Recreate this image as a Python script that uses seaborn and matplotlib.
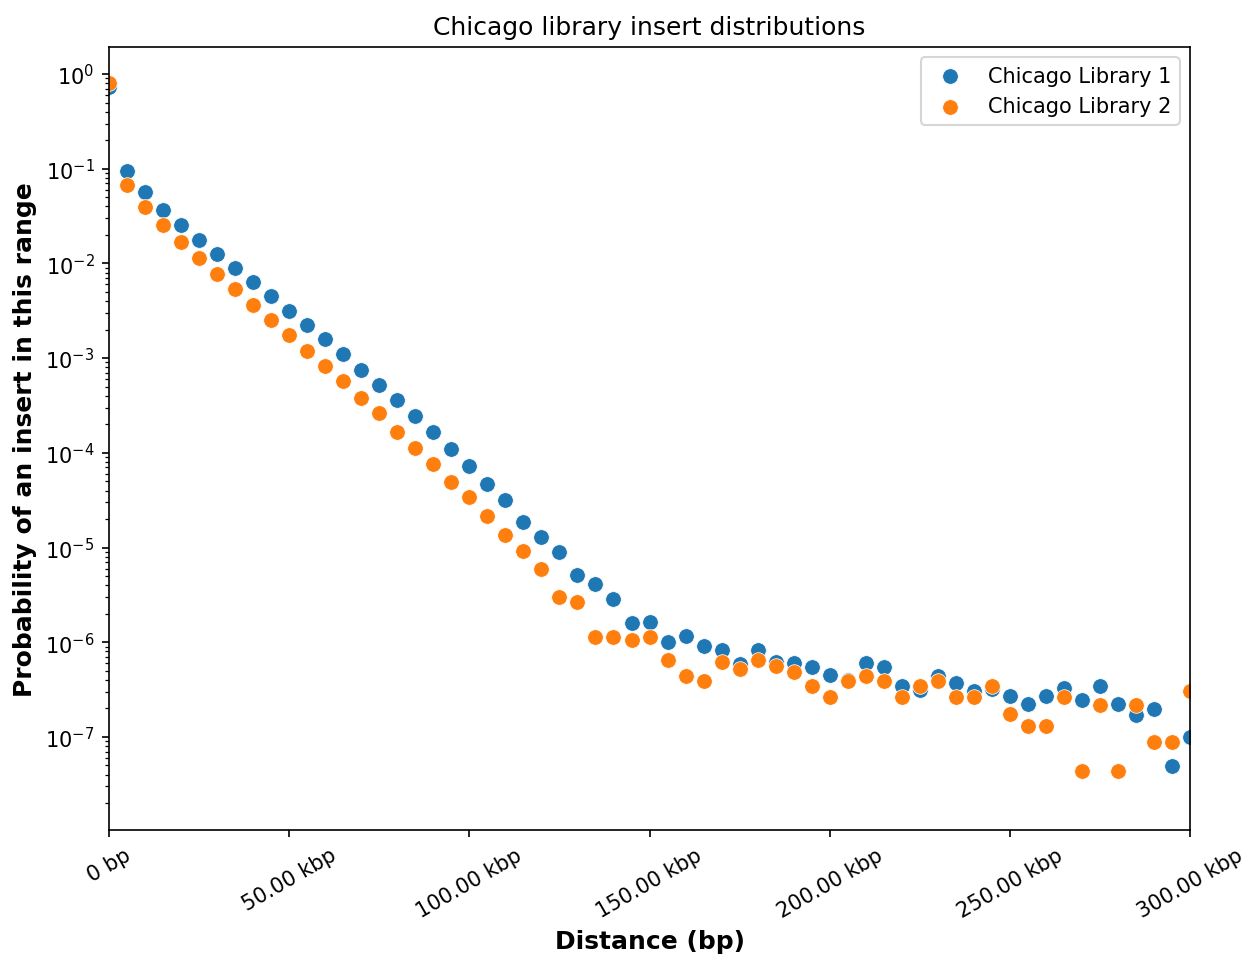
import matplotlib
matplotlib.use("Agg")
import matplotlib.pyplot as plt
from matplotlib.ticker import FuncFormatter, MultipleLocator
import numpy as np
import pandas as pd
import seaborn as sns

# Insert-size bins (bp), one every 5 kbp from 0 to 300 kbp
distance_bp = list(range(0, 300001, 5000))

library1_prob = [
    0.73, 0.0946, 0.0567, 0.0366, 0.0255, 0.0177, 0.0126, 0.00894, 0.00636, 0.00453,
    0.00314, 0.00224, 0.00159, 0.0011, 0.000748, 0.00052, 0.000358, 0.000244, 0.000165, 0.00011,
    7.23e-5, 4.65e-5, 3.15e-5, 1.87e-5, 1.28e-5, 8.88e-6, 5.13e-6, 4.08e-6, 2.86e-6, 1.61e-6,
    1.62e-6, 1.0e-6, 1.15e-6, 9.18e-7, 8.28e-7, 5.89e-7, 8.28e-7, 6.14e-7, 6.03e-7, 5.52e-7,
    4.51e-7, 3.95e-7, 5.98e-7, 5.43e-7, 3.48e-7, 3.15e-7, 4.36e-7, 3.71e-7, 3.08e-7, 3.21e-7,
    2.73e-7, 2.21e-7, 2.73e-7, 3.26e-7, 2.47e-7, 3.45e-7, 2.21e-7, 1.72e-7, 1.97e-7, 4.93e-8,
    9.9e-8,
]

library2_prob = [
    0.80, 0.0673, 0.0394, 0.0255, 0.0168, 0.0114, 0.00773, 0.00537, 0.00364, 0.00252,
    0.00175, 0.00119, 0.000826, 0.000573, 0.000379, 0.000263, 0.000166, 0.000112, 7.62e-5, 4.95e-5,
    3.39e-5, 2.13e-5, 1.35e-5, 9.25e-6, 5.93e-6, 3.03e-6, 2.64e-6, 1.14e-6, 1.14e-6, 1.05e-6,
    1.14e-6, 6.54e-7, 4.36e-7, 3.92e-7, 6.14e-7, 5.21e-7, 6.54e-7, 5.65e-7, 4.81e-7, 3.48e-7,
    2.62e-7, 3.92e-7, 4.36e-7, 3.92e-7, 2.62e-7, 3.48e-7, 3.92e-7, 2.62e-7, 2.62e-7, 3.48e-7,
    1.75e-7, 1.31e-7, 1.31e-7, 2.62e-7, 4.37e-8, 2.19e-7, 4.37e-8, 2.19e-7, 8.75e-8, 8.75e-8,
    3.08e-7,
]

series_labels = ["Chicago Library 1", "Chicago Library 2"]
series_colors = ["#1f77b4", "#ff7f0e"]

df1 = pd.DataFrame({"distance": distance_bp, "prob": library1_prob})
df2 = pd.DataFrame({"distance": distance_bp, "prob": library2_prob})

fig = plt.figure(figsize=(8.3, 6.373), dpi=150)
ax = fig.add_axes([0.0876, 0.1308, 0.9558 - 0.0876, 0.9498 - 0.1308])

for df, lab, col in zip([df1, df2], series_labels, series_colors):
    sns.scatterplot(data=df, x="distance", y="prob", ax=ax, color=col,
                    s=56, linewidth=0.35, edgecolor="white", label=lab)

ax.set_yscale("log")
ax.set_xlim(0, 300000)
ax.set_ylim(1.04e-8, 1.93)
ax.xaxis.set_major_locator(MultipleLocator(50000))


def bp_format(v, pos):
    if v == 0:
        return "0 bp"
    return f"{v / 1000:.2f} kbp"


ax.xaxis.set_major_formatter(FuncFormatter(bp_format))
plt.setp(ax.get_xticklabels(), rotation=30, ha="center")

ax.set_title("Chicago library insert distributions")
ax.set_xlabel("Distance (bp)", fontweight="bold", fontsize=12)
ax.set_ylabel("Probability of an insert in this range", fontweight="bold", fontsize=12)
ax.legend(loc="upper right")

fig.savefig("out.png", dpi=150)
